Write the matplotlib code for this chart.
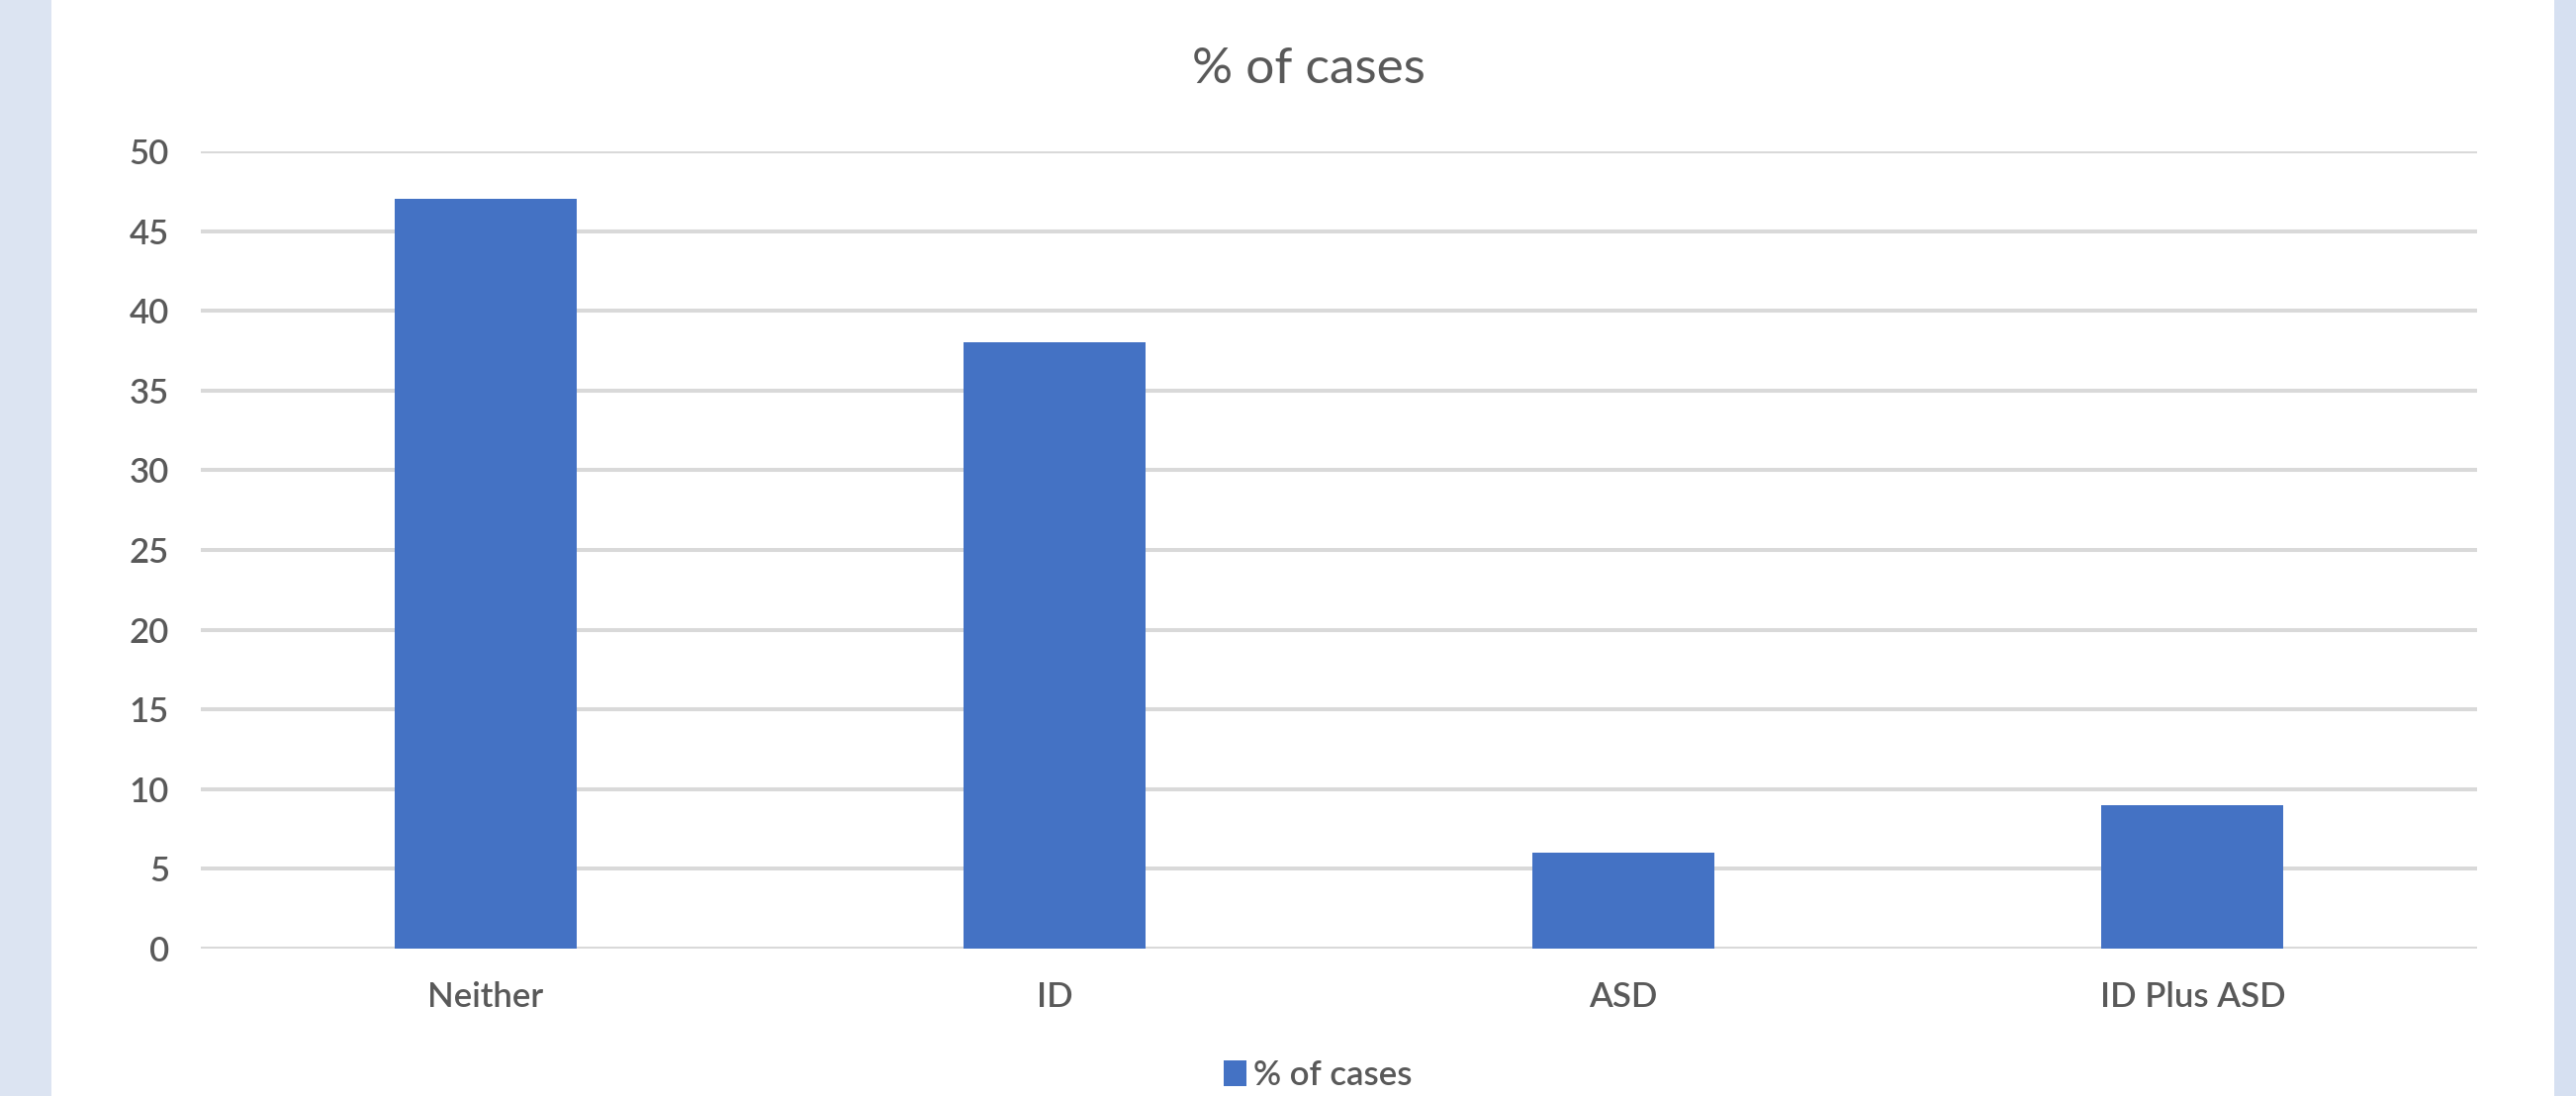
import matplotlib
matplotlib.use("Agg")
import matplotlib.pyplot as plt
from matplotlib.patches import Rectangle

# Data
categories = ["Neither", "ID", "ASD", "ID Plus ASD"]
pct_cases = [47, 38, 6, 9]
series_name = "% of cases"
y_ticks = [0, 5, 10, 15, 20, 25, 30, 35, 40, 45, 50]

W, H, DPI = 2604, 1108, 100
BAR_COLOR = "#4472C4"
GRID_COLOR = "#D9D9D9"
TEXT_COLOR = "#595959"
FONT = ["Lato", "DejaVu Sans"]

plt.rcParams["font.family"] = FONT

fig = plt.figure(figsize=(W / DPI, H / DPI), dpi=DPI, facecolor="white")

# light blue side bands of the slide background
fig.patches.append(Rectangle((0, 0), 52 / W, 1, transform=fig.transFigure,
                             facecolor="#DCE4F2", edgecolor="none", zorder=0))
fig.patches.append(Rectangle((2582 / W, 0), (W - 2582) / W, 1, transform=fig.transFigure,
                             facecolor="#D6E0F1", edgecolor="none", zorder=0))

left, right = 203 / W, 2504 / W
bottom, top = (H - 959) / H, (H - 153) / H
ax = fig.add_axes([left, bottom, right - left, top - bottom])
ax.set_facecolor("white")

x = list(range(len(categories)))
bars = ax.bar(x, pct_cases, width=0.32, color=BAR_COLOR, zorder=3, label=series_name)

ax.set_xlim(-0.5, len(categories) - 0.5)
ax.set_ylim(0, 50)
ax.set_yticks(y_ticks)
ax.set_xticks(x)
ax.set_xticklabels(categories)

ax.yaxis.grid(True, color=GRID_COLOR, linewidth=2.9, zorder=0)
ax.set_axisbelow(True)
for s in ax.spines.values():
    s.set_visible(False)

ax.tick_params(axis="both", length=0, labelsize=25, labelcolor=TEXT_COLOR)
ax.tick_params(axis="y", pad=23)
ax.tick_params(axis="x", pad=24)
for lbl in ax.get_xticklabels() + ax.get_yticklabels():
    lbl.set_fontweight("semibold")

fig.text(1323 / W, (H - 70) / H, "% of cases", ha="center", va="center",
         fontsize=37, color=TEXT_COLOR)

leg = fig.legend(handles=[bars], labels=[series_name], loc="center",
                 bbox_to_anchor=((1242 + 1422) / 2 / W, (H - 1087) / H),
                 frameon=False, fontsize=25, handlelength=0.66, handleheight=0.75,
                 handletextpad=0.2, borderpad=0, borderaxespad=0)
for t in leg.get_texts():
    t.set_color(TEXT_COLOR)
    t.set_fontweight("semibold")

fig.savefig("out.png", dpi=DPI, facecolor="white")
